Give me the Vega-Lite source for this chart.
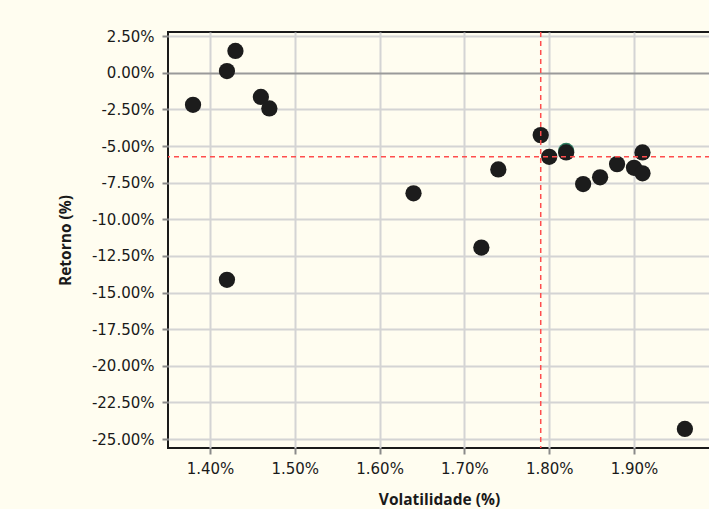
{
  "$schema": "https://vega.github.io/schema/vega-lite/v6.json",
  "width": 542,
  "height": 416,
  "autosize": "none",
  "padding": {"left": 168, "top": 32, "right": 0, "bottom": 61},
  "background": "#fffdf0",
  "config": {
    "view": {"stroke": "#1a1a1a", "strokeWidth": 2, "fill": "#fffdf0"},
    "axis": {
      "domain": false,
      "grid": true,
      "gridColor": {"condition": {"test": "datum.value === 0", "value": "#9a9a9a"}, "value": "#d4d4d4"},
      "gridWidth": 2,
      "tickColor": "#8a8a8a",
      "tickWidth": 2,
      "tickSize": 6,
      "labelOverlap": false,
      "labelFlush": false,
      "labelBound": false,
      "labelFont": "DejaVu Sans",
      "labelFontSize": 15,
      "labelColor": "#1a1a1a",
      "titleFont": "Open Sans",
      "titleFontSize": 15.5,
      "titleFontWeight": "bold",
      "titleColor": "#1a1a1a"
    }
  },
  "datasets": {
    "pontos": [
      {"vol": 1.38, "ret": -2.18},
      {"vol": 1.42, "ret": 0.12},
      {"vol": 1.43, "ret": 1.5},
      {"vol": 1.46, "ret": -1.64},
      {"vol": 1.47, "ret": -2.43},
      {"vol": 1.42, "ret": -14.13},
      {"vol": 1.64, "ret": -8.22},
      {"vol": 1.74, "ret": -6.59},
      {"vol": 1.72, "ret": -11.93},
      {"vol": 1.79, "ret": -4.25},
      {"vol": 1.80, "ret": -5.73},
      {"vol": 1.82, "ret": -5.43},
      {"vol": 1.84, "ret": -7.59},
      {"vol": 1.86, "ret": -7.13},
      {"vol": 1.88, "ret": -6.23},
      {"vol": 1.90, "ret": -6.48},
      {"vol": 1.91, "ret": -5.43},
      {"vol": 1.91, "ret": -6.86},
      {"vol": 1.96, "ret": -24.31}
    ],
    "destaque": [{"vol": 1.82, "ret": -5.33}],
    "refx": [{"vol": 1.79}],
    "refy": [{"ret": -5.73}]
  },
  "layer": [
    {
      "data": {"name": "destaque"},
      "mark": {"type": "circle", "size": 265, "opacity": 1, "color": "#2f7f62"},
      "encoding": {
        "x": {
          "field": "vol", "type": "quantitative",
          "scale": {"domain": [1.3505, 1.9896], "nice": false, "zero": false},
          "axis": {
            "title": "Volatilidade (%)",
            "values": [1.4, 1.5, 1.6, 1.7, 1.8, 1.9],
            "tickCount": 20,
            "labelExpr": "format(datum.value, '.2f') + '%'",
            "labelPadding": 7,
            "titleBaseline": "alphabetic",
            "titleY": 56
          }
        },
        "y": {
          "field": "ret", "type": "quantitative",
          "scale": {"domain": [-25.61, 2.79], "nice": false, "zero": false},
          "axis": {
            "title": "Retorno (%)",
            "values": [-25, -22.5, -20, -17.5, -15, -12.5, -10, -7.5, -5, -2.5, 0, 2.5],
            "tickCount": 20,
            "labelExpr": "(datum.value < 0 ? '-' : '') + format(abs(datum.value), '.2f') + '%'",
            "labelPadding": 8,
            "titleBaseline": "alphabetic",
            "titleX": -98,
            "titleY": 208,
            "titleAngle": -90
          }
        }
      }
    },
    {
      "data": {"name": "pontos"},
      "mark": {"type": "circle", "size": 265, "opacity": 1, "color": "#1c1c1c"},
      "encoding": {
        "x": {"field": "vol", "type": "quantitative"},
        "y": {"field": "ret", "type": "quantitative"}
      }
    },
    {
      "data": {"name": "refx"},
      "mark": {"type": "rule", "color": "#ff4d4d", "strokeWidth": 1.5, "strokeDash": [5, 4]},
      "encoding": {"x": {"field": "vol", "type": "quantitative"}}
    },
    {
      "data": {"name": "refy"},
      "mark": {"type": "rule", "color": "#ff4d4d", "strokeWidth": 1.5, "strokeDash": [5, 4]},
      "encoding": {"y": {"field": "ret", "type": "quantitative"}}
    }
  ]
}
